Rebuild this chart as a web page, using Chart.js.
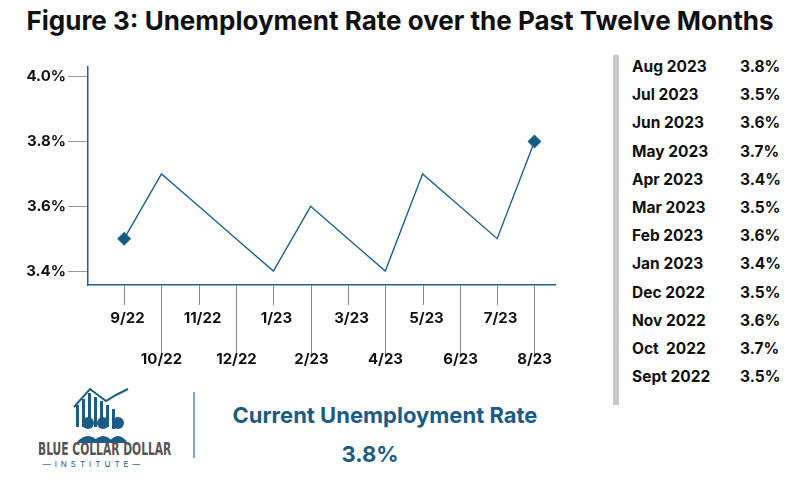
<!DOCTYPE html>
<html><head><meta charset="utf-8">
<script src="https://cdn.jsdelivr.net/npm/chart.js@4"></script>
<style>
body{margin:0;width:800px;height:500px;background:#fff;font-family:Inter,"Noto Sans",sans-serif;position:relative;overflow:hidden}
#title{position:absolute;top:5px;left:0;width:800px;text-align:center;font-weight:700;font-size:26px;color:#111;white-space:nowrap}
#wrap{position:absolute;left:0;top:50px;width:600px;height:330px}
#bar{position:absolute;left:613px;top:55px;width:6px;height:350px;background:#c8c8c8}
.row{position:absolute;left:632px;font-weight:700;font-size:15.5px;color:#111}
.val{position:absolute;left:740px;font-weight:700;font-size:15.5px;color:#111}
#sep{position:absolute;left:193px;top:392px;width:2px;height:66px;background:#7fa6c2}
#cur{position:absolute;left:200px;top:402px;width:370px;text-align:center;font-weight:700;font-size:22px;color:#1a5c85}
#curv{position:absolute;left:200px;top:441px;width:340px;text-align:center;font-weight:700;font-size:22px;color:#1a5c85}
#logo1{position:absolute;left:38px;top:439px;font-family:"Liberation Sans Narrow","DejaVu Sans Condensed",sans-serif;font-weight:700;font-size:17px;color:#555;transform:scaleX(0.7);transform-origin:left;white-space:nowrap}
#logo2{position:absolute;left:36px;top:459px;width:115px;text-align:center;font-size:8px;letter-spacing:4px;color:#1a5c85;white-space:nowrap}
</style></head><body>
<div id="title">Figure 3: Unemployment Rate over the Past Twelve Months</div>
<div id="wrap"><canvas id="c"></canvas></div>
<div id="bar"></div>
<div id="table"></div>
<div id="sep"></div>
<div id="cur">Current Unemployment Rate</div>
<div id="curv">3.8%</div>
<svg style="position:absolute;left:66px;top:385px" width="80" height="60">
 <g fill="#1a5c85">
  <rect x="10" y="20" width="3" height="22"/><rect x="16" y="14" width="3" height="28"/><rect x="22" y="8" width="3" height="34"/>
  <rect x="28" y="12" width="3" height="30"/><rect x="34" y="16" width="3" height="26"/><rect x="40" y="20" width="3" height="22"/><rect x="46" y="24" width="3" height="20"/>
  <circle cx="22" cy="38" r="6"/><circle cx="37" cy="38" r="6"/><circle cx="52" cy="38" r="6"/>
  <path d="M10 58 Q22 44 34 58Z M26 58 Q37 44 48 58Z M42 58 Q52 44 62 58Z"/>
 </g>
 <polyline points="8,22 24,4 40,16 50,10 62,4" fill="none" stroke="#1a5c85" stroke-width="2"/>
</svg>
<div id="logo1">BLUE COLLAR DOLLAR</div>
<div id="logo2">—INSTITUTE—</div>
<script>
const categories=['9/22','10/22','11/22','12/22','1/23','2/23','3/23','4/23','5/23','6/23','7/23','8/23'];
const rates=[3.5,3.7,3.6,3.5,3.4,3.6,3.5,3.4,3.7,3.6,3.5,3.8];
const tableMonths=['Aug 2023','Jul 2023','Jun 2023','May 2023','Apr 2023','Mar 2023','Feb 2023','Jan 2023','Dec 2022','Nov 2022','Oct  2022','Sept 2022'];
const tableValues=['3.8%','3.5%','3.6%','3.7%','3.4%','3.5%','3.6%','3.4%','3.5%','3.6%','3.7%','3.5%'];
const yTicks=[3.4,3.6,3.8,4.0];

let html='';
tableMonths.forEach((m,i)=>{const t=57+i*28.2;html+=`<div class="row" style="top:${t}px">${m.replace('  ',' &nbsp;')}</div><div class="val" style="top:${t}px">${tableValues[i]}</div>`;});
document.getElementById('table').innerHTML=html;

const lastIdx=rates.length-1;
const xTickPlugin={id:'xt',afterDraw(ch){
 const ctx=ch.ctx,xs=ch.scales.x,ys=ch.scales.y,base=ys.bottom;
 ctx.save();ctx.strokeStyle='#888';ctx.lineWidth=1;ctx.fillStyle='#111';
 ctx.font='bold 15px Inter, "Noto Sans", sans-serif';ctx.textAlign='center';ctx.textBaseline='middle';
 categories.forEach((c,i)=>{const x=Math.round(xs.getPixelForValue(i))+0.5;const odd=i%2===1;
  ctx.beginPath();ctx.moveTo(x,base);ctx.lineTo(x,base+(odd?73:20));ctx.stroke();
  ctx.fillText(c,x+(odd?0:3),base+(odd?74:33));});
 ctx.restore();}};

new Chart(document.getElementById('c'),{type:'line',
 data:{datasets:[{data:rates.map((v,i)=>({x:i,y:v})),borderColor:'#1f6189',borderWidth:1.4,
  backgroundColor:'#0f5b85',pointStyle:'rectRot',
  pointRadius:rates.map((v,i)=>(i===0||i===lastIdx)?6:0),pointHoverRadius:0,tension:0,fill:false}]},
 options:{responsive:true,maintainAspectRatio:false,animation:false,
  layout:{padding:{top:17,right:45,left:0,bottom:0}},
  plugins:{legend:{display:false},tooltip:{enabled:false}},
  scales:{
   x:{type:'linear',min:-0.97,max:11.55,afterFit(s){s.height=95;},
    grid:{display:false,drawTicks:false},border:{color:'#1f6189',width:1.5},
    ticks:{display:false}},
   y:{min:3.357,max:4.03,afterFit(s){s.width=88;},
    afterBuildTicks(s){s.ticks=yTicks.map(v=>({value:v}));},
    grid:{drawOnChartArea:false,tickLength:20,color:'#999'},border:{color:'#1f6189',width:1.5},
    ticks:{color:'#111',font:{family:'Inter',size:15,weight:'bold'},padding:2,callback:v=>v.toFixed(1)+'%'}}
  }},
 plugins:[xTickPlugin]});
</script></body></html>
